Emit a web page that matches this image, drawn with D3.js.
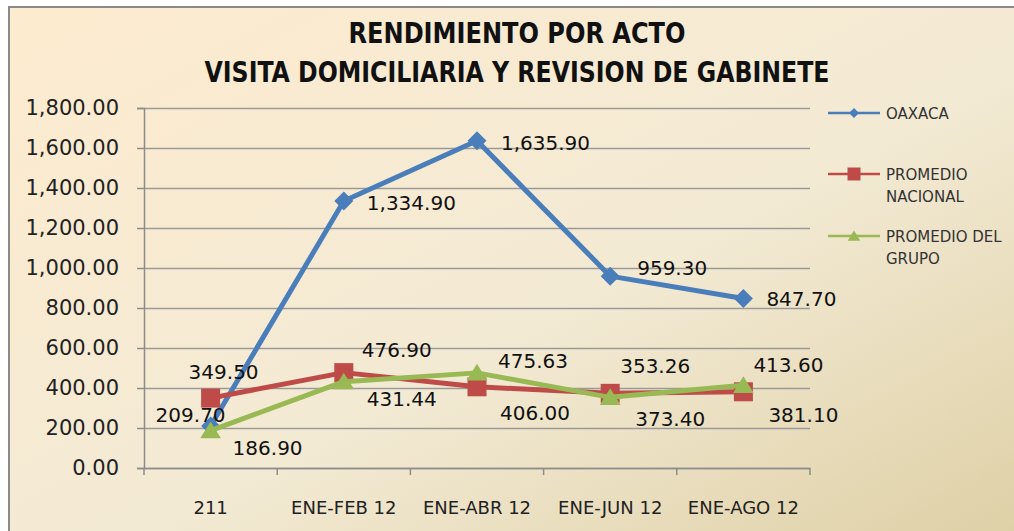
<!DOCTYPE html>
<html>
<head>
<meta charset="utf-8">
<script src="https://cdn.jsdelivr.net/npm/d3@7"></script>
<style>
  html, body { margin: 0; padding: 0; background: #fff; }
  svg { display: block; }
  .tick text { font-family: "DejaVu Sans", sans-serif; fill: #222; }
  .lbl { font-family: "DejaVu Sans", sans-serif; font-size: 20px; fill: #111; }
  .leg { font-family: "DejaVu Sans", sans-serif; font-size: 15px; fill: #333; }
  .title { font-family: "Liberation Sans Narrow", "DejaVu Sans Condensed", sans-serif; font-weight: bold; font-size: 29px; fill: #111; }
</style>
</head>
<body>
<script>
var categories = ["211", "ENE-FEB 12", "ENE-ABR 12", "ENE-JUN 12", "ENE-AGO 12"];
var oaxaca = [209.70, 1334.90, 1635.90, 959.30, 847.70];
var promedioNacional = [349.50, 476.90, 406.00, 373.40, 381.10];
var promedioGrupo = [186.90, 431.44, 475.63, 353.26, 413.60];
var yTicks = [0, 200, 400, 600, 800, 1000, 1200, 1400, 1600, 1800];
var titleLines = ["RENDIMIENTO POR ACTO", "VISITA DOMICILIARIA Y REVISION DE GABINETE"];

// label placement per point (left edge offset, vertical offset) – layout only
var oaxacaLabelPos = [[-55, -11], [23, 2], [24, 2], [27, -8], [23, 1]];
var nacionalLabelPos = [[-22, -26], [18, -23], [23, 26], [25, 26], [25, 23]];
var grupoLabelPos = [[22, 17], [23, 17], [21, -12], [10, -31], [10, -20]];

var W = 1014, H = 531;
var plot = { left: 144, right: 810, top: 108, bottom: 468 };

var svg = d3.select("body").append("svg")
  .attr("width", W)
  .attr("height", H);

var defs = svg.append("defs");
var grad = defs.append("linearGradient")
  .attr("id", "bg")
  .attr("x1", "0").attr("y1", "0")
  .attr("x2", "1").attr("y2", "1");
grad.append("stop").attr("offset", "0").attr("stop-color", "#fdebcf");
grad.append("stop").attr("offset", "0.55").attr("stop-color", "#f3ead4");
grad.append("stop").attr("offset", "1").attr("stop-color", "#ddcfa4");

svg.append("rect")
  .attr("x", 9).attr("y", 7)
  .attr("width", W + 10).attr("height", H + 10)
  .attr("fill", "url(#bg)")
  .attr("stroke", "#8a8a8a")
  .attr("stroke-width", 2);

// title
svg.selectAll(".title")
  .data(titleLines)
  .enter()
  .append("text")
  .attr("class", "title")
  .attr("x", 517)
  .attr("y", function (d, i) { return 43 + i * 39; })
  .attr("text-anchor", "middle")
  .attr("textLength", function (d, i) { return i === 0 ? 337 : 625; })
  .attr("lengthAdjust", "spacingAndGlyphs")
  .text(function (d) { return d; });

var x = d3.scaleBand()
  .domain(categories)
  .range([plot.left, plot.right]);

var y = d3.scaleLinear()
  .domain([0, 1800])
  .range([plot.bottom, plot.top]);

function cx(i) { return x(categories[i]) + x.bandwidth() / 2; }

// gridlines
var grid = svg.append("g")
  .attr("transform", "translate(" + plot.left + ",0)")
  .call(d3.axisLeft(y).tickValues(yTicks).tickSize(-(plot.right - plot.left)).tickFormat(""));
grid.select(".domain").remove();
grid.selectAll(".tick line").attr("stroke", "#9a9a9a").attr("stroke-width", 1.5);

// y axis
var yAxis = svg.append("g")
  .attr("transform", "translate(" + plot.left + ",0)")
  .call(d3.axisLeft(y).tickValues(yTicks).tickSize(7).tickPadding(18).tickFormat(d3.format(",.2f")));
yAxis.select(".domain").attr("stroke", "#8c8c8c").attr("stroke-width", 1.5);
yAxis.selectAll(".tick line").attr("stroke", "#8c8c8c").attr("stroke-width", 1.5);
yAxis.selectAll(".tick text").style("font-size", "21px");

// x axis
var xAxis = svg.append("g")
  .attr("transform", "translate(0," + plot.bottom + ")")
  .call(d3.axisBottom(x).tickSize(0).tickPadding(33));
xAxis.select(".domain").attr("stroke", "#8c8c8c").attr("stroke-width", 1.5);
xAxis.selectAll(".tick text").style("font-size", "18px");

// category boundary ticks
var bounds = categories.map(function (c) { return x(c); }).concat([plot.right]);
svg.append("g")
  .selectAll("line")
  .data(bounds)
  .enter()
  .append("line")
  .attr("x1", function (d) { return d; })
  .attr("x2", function (d) { return d; })
  .attr("y1", plot.bottom)
  .attr("y2", plot.bottom + 7)
  .attr("stroke", "#8c8c8c")
  .attr("stroke-width", 1.5);

var series = [
  { name: "OAXACA", values: oaxaca, color: "#4a7ebb", marker: "diamond", pos: oaxacaLabelPos },
  { name: "PROMEDIO NACIONAL", values: promedioNacional, color: "#be4b48", marker: "square", pos: nacionalLabelPos },
  { name: "PROMEDIO DEL GRUPO", values: promedioGrupo, color: "#98b954", marker: "triangle", pos: grupoLabelPos }
];

function markerPath(type, s) {
  if (type === "diamond") {
    return "M0," + (-s) + "L" + s + ",0L0," + s + "L" + (-s) + ",0Z";
  } else if (type === "square") {
    return "M" + (-s) + "," + (-s) + "H" + s + "V" + s + "H" + (-s) + "Z";
  }
  return "M0," + (-s) + "L" + (s * 1.15) + "," + (s * 0.85) + "H" + (-s * 1.15) + "Z";
}

var line = d3.line()
  .x(function (d, i) { return cx(i); })
  .y(function (d) { return y(d); });

var markerSize = { diamond: 9.5, square: 9.5, triangle: 9 };

series.forEach(function (s) {
  var g = svg.append("g");
  g.append("path")
    .datum(s.values)
    .attr("d", line)
    .attr("fill", "none")
    .attr("stroke", s.color)
    .attr("stroke-width", 5)
    .attr("stroke-linejoin", "round");
  g.selectAll(".mk")
    .data(s.values)
    .enter()
    .append("path")
    .attr("class", "mk")
    .attr("transform", function (d, i) { return "translate(" + cx(i) + "," + y(d) + ")"; })
    .attr("d", markerPath(s.marker, markerSize[s.marker]))
    .attr("fill", s.color);
});

// data labels drawn on top
series.forEach(function (s) {
  svg.append("g")
    .selectAll("text")
    .data(s.values)
    .enter()
    .append("text")
    .attr("class", "lbl")
    .attr("x", function (d, i) { return cx(i) + s.pos[i][0]; })
    .attr("y", function (d, i) { return y(d) + s.pos[i][1]; })
    .attr("dominant-baseline", "central")
    .text(function (d) { return d3.format(",.2f")(d); });
});

// legend
var legendRows = [
  { lines: ["OAXACA"], y: 113 },
  { lines: ["PROMEDIO", "NACIONAL"], y: 174 },
  { lines: ["PROMEDIO DEL", "GRUPO"], y: 236 }
];
var legend = svg.append("g");
series.forEach(function (s, k) {
  var row = legendRows[k];
  var g = legend.append("g").attr("transform", "translate(0," + row.y + ")");
  g.append("line")
    .attr("x1", 828).attr("x2", 880)
    .attr("stroke", s.color)
    .attr("stroke-width", 2.5);
  g.append("path")
    .attr("transform", "translate(854,0)")
    .attr("d", markerPath(s.marker, s.marker === "triangle" ? 5.5 : (s.marker === "square" ? 6.5 : 5)))
    .attr("fill", s.color);
  g.selectAll("text")
    .data(row.lines)
    .enter()
    .append("text")
    .attr("class", "leg")
    .attr("x", 886)
    .attr("y", function (d, i) { return 6 + i * 22; })
    .text(function (d) { return d; });
});
</script>
</body>
</html>
